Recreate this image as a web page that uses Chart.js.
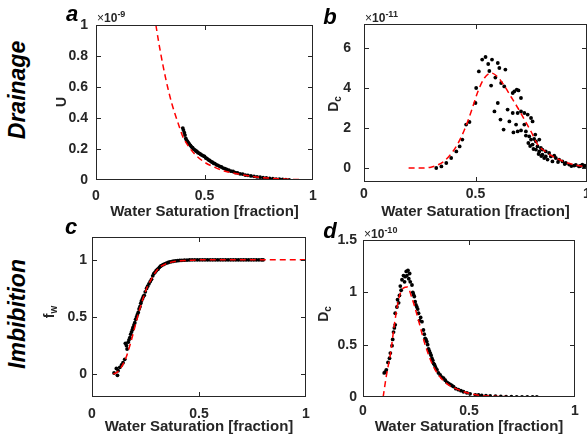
<!DOCTYPE html>
<html>
<head>
<meta charset="utf-8">
<title>Drainage / Imbibition</title>
<script src="https://cdn.jsdelivr.net/npm/chart.js@4.4.1/dist/chart.umd.min.js"></script>
<style>
  html, body { margin: 0; padding: 0; background: #fff; }
  body { position: relative; width: 587px; height: 443px; overflow: hidden;
         font-family: "Liberation Sans", Arial, Helvetica, sans-serif; color: #262626; }
  canvas { position: absolute; }
  .t { position: absolute; white-space: nowrap; line-height: 1; transform: translate(-50%, -50%); }
  .rot { transform: translate(-50%, -50%) rotate(-90deg); }
  .row { font-size: 23px; font-weight: bold; font-style: italic; color: #000; }
  .tag { font-size: 22px; font-weight: bold; font-style: italic; color: #000; }
  .ylab { font-size: 14px; font-weight: bold; }
  .ylab sub { position: relative; top: 3px; font-size: 10px; vertical-align: baseline; }
  .exp { position: absolute; font-size: 12px; line-height: 1; font-weight: bold; white-space: nowrap; }
  .exp .x { font-weight: normal; }
  .exp sup { position: relative; top: -5px; font-size: 9px; vertical-align: baseline; }
</style>
</head>
<body>

<canvas id="chart-a"></canvas>
<canvas id="chart-b"></canvas>
<canvas id="chart-c"></canvas>
<canvas id="chart-d"></canvas>

<!-- row titles -->
<div class="t rot row" style="left:17px; top:90px;">Drainage</div>
<div class="t rot row" style="left:17px; top:314px;">Imbibition</div>

<!-- panel letters -->
<div class="t tag" style="left:72px; top:14px;">a</div>
<div class="t tag" style="left:330px; top:17px;">b</div>
<div class="t tag" style="left:71px; top:227px;">c</div>
<div class="t tag" style="left:330px; top:231px;">d</div>

<!-- exponent labels -->
<div class="exp" style="left:97px; top:12px;"><span class="x">×</span>10<sup>-9</sup></div>
<div class="exp" style="left:365px; top:12px;"><span class="x">×</span>10<sup>-11</sup></div>
<div class="exp" style="left:364px; top:228px;"><span class="x">×</span>10<sup>-10</sup></div>

<!-- y axis titles -->
<div class="t rot ylab" style="left:61px; top:102px;">U</div>
<div class="t rot ylab" style="left:333px; top:104px;">D<sub>c</sub></div>
<div class="t rot ylab" style="left:49px; top:312px;">f<sub>w</sub></div>
<div class="t rot ylab" style="left:323px; top:314px;">D<sub>c</sub></div>

<script>
// ============================================
// Drainage / imbibition fits vs. measurements
// ============================================

const satTicks = [0, 0.5, 1];

// a — drainage, U (×1e-9)
const uTicks = [0, 0.2, 0.4, 0.6, 0.8, 1];
const uFit = [[0.276,1.0],[0.29,0.88],[0.31,0.73],[0.33,0.60],[0.35,0.49],[0.38,0.36],[0.40,0.28],[0.43,0.21],
  [0.46,0.16],[0.50,0.115],[0.55,0.08],[0.60,0.055],[0.65,0.04],[0.70,0.028],[0.75,0.018],[0.80,0.012],
  [0.85,0.007],[0.90,0.004],[0.95,0.002],[1.0,0.0]];
const uObs = [[0.400,0.335],[0.403,0.322],[0.407,0.305],[0.410,0.290],[0.414,0.268],[0.418,0.256],[0.422,0.247],
  [0.426,0.240],[0.430,0.231],[0.435,0.224],[0.440,0.214],[0.445,0.209],[0.450,0.199],[0.455,0.195],[0.460,0.187],
  [0.465,0.184],[0.470,0.176],[0.476,0.172],[0.482,0.166],[0.488,0.161],[0.494,0.156],[0.500,0.152],[0.506,0.142],
  [0.512,0.138],[0.518,0.130],[0.524,0.126],[0.530,0.119],[0.536,0.115],[0.542,0.108],[0.548,0.106],[0.555,0.098],
  [0.562,0.095],[0.570,0.088],[0.578,0.084],[0.586,0.077],[0.594,0.074],[0.602,0.068],[0.612,0.064],[0.622,0.057],
  [0.632,0.055],[0.642,0.048],[0.652,0.046],[0.664,0.040],[0.676,0.038],[0.688,0.032],[0.700,0.030],[0.714,0.026],
  [0.728,0.024],[0.742,0.020],[0.756,0.018],[0.770,0.015],[0.785,0.013],[0.800,0.010],[0.815,0.009],[0.830,0.006],
  [0.845,0.006],[0.860,0.004],[0.875,0.003],[0.890,0.001]];

// b — drainage, Dc (×1e-11)
const dcDrainTicks = [0, 2, 4, 6];
const dcDrainFit = [[0.20,0],[0.25,0],[0.30,0.04],[0.33,0.15],[0.36,0.35],[0.39,0.7],[0.42,1.2],[0.45,1.9],
  [0.48,2.8],[0.51,3.8],[0.54,4.5],[0.57,4.75],[0.60,4.55],[0.63,4.1],[0.66,3.55],[0.69,3.0],[0.72,2.4],
  [0.75,1.8],[0.78,1.15],[0.81,0.85],[0.84,0.62],[0.87,0.45],[0.90,0.3],[0.95,0.15],[1.0,0.05]];
const dcDrainObs = [[0.324,0.00],[0.347,0.08],[0.369,0.25],[0.391,0.50],[0.414,0.83],[0.429,1.08],[0.441,1.42],
  [0.458,2.17],[0.473,2.30],[0.500,3.25],[0.503,4.00],[0.515,4.83],[0.530,5.42],[0.545,5.55],[0.557,5.20],
  [0.574,5.42],[0.600,5.25],[0.607,5.00],[0.634,4.92],[0.562,4.85],[0.589,4.52],[0.570,4.12],[0.615,4.25],
  [0.629,4.08],[0.600,3.25],[0.585,2.83],[0.612,2.42],[0.626,1.92],[0.644,2.92],[0.652,2.33],[0.667,2.75],
  [0.674,3.83],[0.685,3.92],[0.693,3.88],[0.667,3.75],[0.704,3.50],[0.689,2.75],[0.704,2.83],[0.719,2.75],
  [0.734,2.67],[0.749,2.50],[0.756,2.33],[0.682,2.17],[0.670,1.78],[0.689,1.83],[0.704,1.88],[0.726,1.83],
  [0.726,1.62],[0.741,1.58],[0.749,1.42],[0.763,1.45],[0.771,1.33],[0.786,1.42],[0.756,1.17],[0.778,1.08],
  [0.793,1.00],[0.800,0.92],[0.815,0.83],[0.830,0.75],[0.838,0.58],[0.853,0.62],[0.860,0.50],[0.875,0.42],
  [0.890,0.33],[0.905,0.25],[0.920,0.17],[0.942,0.12],[0.964,0.08],[0.979,0.17],[0.987,0.05],[0.815,0.58],
  [0.800,0.67],[0.786,0.83],[0.771,0.92],[0.823,0.42],[0.845,0.33],[0.768,1.67],[0.719,2.17],[0.737,1.25],
  [0.745,1.10],[0.760,0.95],[0.783,0.70],[0.795,0.60],[0.808,0.50],[0.870,0.30],[0.900,0.20],[0.930,0.10],
  [0.950,0.15],[0.970,0.10],[0.990,0.12]];

// c — imbibition, fw
const fwTicks = [0, 0.5, 1];
const fwFit = [[0.10,0],[0.12,0.02],[0.14,0.07],[0.16,0.15],[0.18,0.27],[0.20,0.41],[0.22,0.55],[0.24,0.67],
  [0.26,0.77],[0.28,0.84],[0.30,0.90],[0.32,0.94],[0.34,0.96],[0.37,0.98],[0.40,0.99],[0.45,0.995],[0.50,1],
  [0.60,1],[0.70,1],[0.80,1],[0.90,1],[1.0,1]];
const fwObs = [[0.103,0.01],[0.119,-0.01],[0.114,0.05],[0.122,0.03],[0.130,0.06],[0.138,0.08],[0.145,0.10],
  [0.153,0.13],[0.161,0.25],[0.156,0.27],[0.164,0.22],[0.169,0.28],[0.173,0.30],[0.177,0.32],[0.181,0.35],
  [0.185,0.37],[0.189,0.39],[0.192,0.41],[0.196,0.43],[0.200,0.45],[0.204,0.48],[0.208,0.50],[0.212,0.52],
  [0.216,0.54],[0.220,0.57],[0.224,0.59],[0.228,0.62],[0.231,0.64],[0.236,0.66],[0.240,0.68],[0.244,0.69],
  [0.249,0.72],[0.255,0.75],[0.260,0.77],[0.266,0.79],[0.272,0.81],[0.278,0.83],[0.284,0.86],[0.289,0.88],
  [0.294,0.89],[0.300,0.905],[0.305,0.915],[0.309,0.92],[0.315,0.935],[0.320,0.945],[0.325,0.95],[0.332,0.958],
  [0.340,0.965],[0.348,0.972],[0.356,0.977],[0.364,0.982],[0.372,0.985],[0.380,0.988],[0.390,0.991],
  [0.400,0.993],[0.410,0.995],[0.420,0.996],[0.432,0.997],[0.444,0.998],[0.456,0.999],[0.468,1],[0.480,1],
  [0.492,1],[0.504,1],[0.516,1],[0.528,1],[0.540,1],[0.552,1],[0.564,1],[0.576,1],[0.588,1],[0.600,1],
  [0.612,1],[0.624,1],[0.636,1],[0.648,1],[0.660,1],[0.672,1],[0.684,1],[0.696,1],[0.708,1],[0.720,1],
  [0.732,1],[0.744,1],[0.756,1],[0.768,1],[0.780,1],[0.792,1],[0.800,1]];

// d — imbibition, Dc (×1e-10)
const dcImbTicks = [0, 0.5, 1, 1.5];
const dcImbFit = [[0.095,0],[0.11,0.2],[0.13,0.42],[0.15,0.72],[0.17,0.95],[0.19,1.04],[0.21,1.05],[0.23,0.95],
  [0.25,0.82],[0.27,0.67],[0.29,0.52],[0.31,0.40],[0.33,0.30],[0.36,0.20],[0.40,0.12],[0.45,0.07],[0.50,0.035],
  [0.55,0.015],[0.60,0.008],[0.70,0.002],[0.80,0],[0.93,0]];
const dcImbObs = [[0.100,0.23],[0.110,0.26],[0.105,0.24],[0.118,0.33],[0.125,0.37],[0.129,0.42],[0.137,0.49],
  [0.140,0.55],[0.144,0.62],[0.148,0.66],[0.152,0.69],[0.152,0.80],[0.160,0.86],[0.163,0.93],[0.168,0.90],
  [0.172,0.97],[0.176,1.06],[0.180,1.02],[0.184,1.12],[0.191,1.16],[0.196,1.10],[0.199,1.15],[0.204,1.20],
  [0.207,1.16],[0.212,1.21],[0.216,1.13],[0.220,1.18],[0.223,1.10],[0.231,1.07],[0.235,1.00],[0.238,0.98],
  [0.242,0.96],[0.246,0.91],[0.250,0.88],[0.254,0.86],[0.258,0.84],[0.262,0.80],[0.267,0.73],[0.272,0.76],
  [0.278,0.72],[0.285,0.64],[0.289,0.60],[0.293,0.56],[0.297,0.55],[0.301,0.53],[0.305,0.50],[0.309,0.46],
  [0.313,0.44],[0.317,0.42],[0.321,0.40],[0.325,0.37],[0.329,0.35],[0.333,0.32],[0.337,0.31],[0.341,0.29],
  [0.345,0.27],[0.349,0.26],[0.356,0.23],[0.364,0.21],[0.372,0.19],[0.380,0.18],[0.388,0.16],[0.396,0.14],
  [0.403,0.13],[0.411,0.12],[0.419,0.11],[0.427,0.10],[0.438,0.08],[0.450,0.07],[0.462,0.06],[0.474,0.05],
  [0.490,0.04],[0.505,0.03],[0.530,0.02],[0.545,0.02],[0.560,0.015],[0.580,0.012],[0.600,0.01],[0.625,0.008],
  [0.650,0.005],[0.675,0.004],[0.700,0.003],[0.725,0.002],[0.750,0.001],[0.775,0.001],[0.800,0.0],[0.820,0.0]];

// ---- layout ----
const INK = '#262626';
const FONT_FAMILY = '"Liberation Sans", Arial, Helvetica, sans-serif';
const tickFont = { family: FONT_FAMILY, size: 14, weight: 'bold' };
const titleFont = { family: FONT_FAMILY, size: 15, weight: 'bold' };

// MATLAB style box with inward ticks on all four sides
const matlabBox = {
  id: 'matlabBox',
  afterDraw(chart) {
    const { ctx, chartArea: a } = chart;
    const xs = chart.scales.x, ys = chart.scales.y;
    const l = Math.round(a.left), r = Math.round(a.right) - 1;
    const t = Math.round(a.top), b = Math.round(a.bottom) - 1;
    const len = 4;
    ctx.save();
    ctx.setLineDash([]);
    ctx.globalAlpha = 1;
    ctx.fillStyle = INK;
    ctx.fillRect(l, t, r - l + 1, 1);
    ctx.fillRect(l, b, r - l + 1, 1);
    ctx.fillRect(l, t, 1, b - t + 1);
    ctx.fillRect(r, t, 1, b - t + 1);
    for (const tk of xs.ticks) {
      const px = Math.min(r, Math.round(xs.getPixelForValue(tk.value)));
      ctx.fillRect(px, b - len, 1, len);
      ctx.fillRect(px, t + 1, 1, len);
    }
    for (const tk of ys.ticks) {
      const py = Math.min(b, Math.round(ys.getPixelForValue(tk.value)));
      ctx.fillRect(l + 1, py, len, 1);
      ctx.fillRect(r - len, py, len, 1);
    }
    ctx.restore();
  }
};

const fmt = v => String(Math.round(v * 100) / 100);
const fixTicks = vals => s => { s.ticks = vals.map(v => ({ value: v })); };

function chartConfig(box, padT, padR, yRange, yTicks, fit, obs) {
  return {
    type: 'scatter',
    data: {
      datasets: [
        {
          data: fit.map(([x, y]) => ({ x, y })),
          showLine: true,
          borderColor: '#ff0000',
          borderWidth: 1.5,
          borderDash: [6, 4],
          cubicInterpolationMode: 'monotone',
          pointRadius: 0,
          order: 0
        },
        {
          data: obs.map(([x, y]) => ({ x, y })),
          backgroundColor: '#000',
          borderWidth: 0,
          pointRadius: 1.9,
          order: 1
        }
      ]
    },
    options: {
      responsive: false,
      animation: false,
      events: [],
      layout: { padding: { left: 0, top: padT, right: padR, bottom: 0 } },
      plugins: { legend: { display: false }, tooltip: { enabled: false } },
      scales: {
        x: {
          type: 'linear', min: 0, max: 1,
          afterBuildTicks: fixTicks(satTicks),
          afterFit: s => { s.height = box.padB; },
          grid: { display: false, drawTicks: false },
          border: { display: false },
          ticks: { color: INK, font: tickFont, padding: box.xPad, maxRotation: 0, autoSkip: false, callback: fmt },
          title: { display: true, text: 'Water Saturation [fraction]', color: INK, font: titleFont,
                   padding: { top: 0, bottom: box.titlePad } }
        },
        y: {
          type: 'linear', min: yRange[0], max: yRange[1],
          afterBuildTicks: fixTicks(yTicks),
          afterFit: s => { s.width = box.padL; },
          grid: { display: false, drawTicks: false },
          border: { display: false },
          ticks: { color: INK, font: tickFont, padding: box.yPad, autoSkip: false, callback: fmt }
        }
      }
    },
    plugins: [matlabBox]
  };
}

// two passes: first measure the room Chart.js keeps around the plot,
// then size and place the canvas so the plot box lands on the target rectangle
function makePanel(id, box, yRange, yTicks, fit, obs) {
  const cv = document.getElementById(id);
  const w = box.r - box.l, h = box.b - box.t;
  const place = (padT, padR) => {
    cv.width = w + box.padL + padR;
    cv.height = h + padT + box.padB;
    cv.style.left = (box.l - box.padL) + 'px';
    cv.style.top = (box.t - padT) + 'px';
  };
  place(10, 10);
  const probe = new Chart(cv, chartConfig(box, 10, 10, yRange, yTicks, fit, obs));
  const a = probe.chartArea;
  const padT = Math.ceil(a.top);
  const padR = Math.ceil(cv.width - a.right);
  probe.destroy();
  place(padT, padR);
  return new Chart(cv, chartConfig(box, padT, padR, yRange, yTicks, fit, obs));
}

makePanel('chart-a', { l: 96, t: 25, r: 313, b: 180, padL: 60, padB: 43, xPad: 8, yPad: 8, titlePad: 2 },
  [0, 1], uTicks, uFit, uObs);
makePanel('chart-b', { l: 364, t: 24, r: 587, b: 182, padL: 38, padB: 43, xPad: 4, yPad: 13, titlePad: 4 },
  [-0.7, 7.2], dcDrainTicks, dcDrainFit, dcDrainObs);
makePanel('chart-c', { l: 92, t: 237, r: 306, b: 397, padL: 60, padB: 50, xPad: 9, yPad: 5, titlePad: 11 },
  [-0.2, 1.2], fwTicks, fwFit, fwObs);
makePanel('chart-d', { l: 363, t: 240, r: 575, b: 397, padL: 44, padB: 50, xPad: 6, yPad: 6, titlePad: 11 },
  [0, 1.5], dcImbTicks, dcImbFit, dcImbObs);
</script>
</body>
</html>
